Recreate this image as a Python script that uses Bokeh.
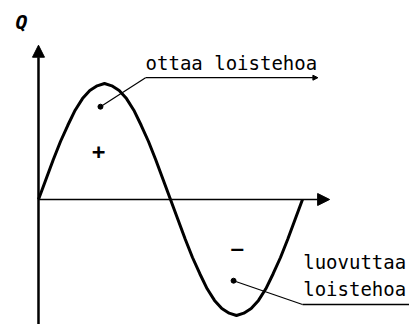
from bokeh.plotting import figure
from bokeh.models import Range1d, Arrow, NormalHead, ColumnDataSource, Label
from bokeh.embed import file_html
from bokeh.resources import INLINE

# Data: phase angle (degrees) and reactive power Q (relative)
angle_deg = [0, 10, 20, 30, 40, 50, 60, 70, 80, 90, 100, 110, 120, 130, 140, 150, 160, 170, 180,
             190, 200, 210, 220, 230, 240, 250, 260, 270, 280, 290, 300, 310, 320, 330, 340, 350, 360]
q_values = [0.0, 0.17, 0.34, 0.50, 0.64, 0.77, 0.87, 0.94, 0.98, 1.0, 0.98, 0.94, 0.87, 0.77, 0.64, 0.50,
            0.34, 0.17, 0.0, -0.17, -0.34, -0.50, -0.64, -0.77, -0.87, -0.94, -0.98, -1.0, -0.98, -0.94,
            -0.87, -0.77, -0.64, -0.50, -0.34, -0.17, 0.0]
axis_label = "Q"
label_take = "ottaa loistehoa"
label_give = ["luovuttaa", "loistehoa"]
signs = ["+", "\u2013"]

FONT = "DejaVu Sans Mono"

p = figure(width=409, height=324, output_backend="svg", toolbar_location=None,
           x_axis_type=None, y_axis_type=None, min_border=0,
           x_range=Range1d(-51.8, 505.9), y_range=Range1d(-1.0776, 1.7155))
p.grid.visible = False
p.outline_line_color = None
p.background_fill_color = "white"

# axes with arrows
p.add_layout(Arrow(end=NormalHead(size=12, fill_color="black", line_color="black"),
                   x_start=0, y_start=-1.0776, x_end=0, y_end=1.33,
                   line_width=2.5, line_color="black"))
p.add_layout(Arrow(end=NormalHead(size=12, fill_color="black", line_color="black"),
                   x_start=0, y_start=0, x_end=397, y_end=0,
                   line_width=1.6, line_color="black"))

# sine curve
src = ColumnDataSource(dict(x=angle_deg, y=q_values))
p.line("x", "y", source=src, line_width=3, line_color="black")

# marker dots
p.scatter([84.5, 266], [0.80, -0.70], size=5, color="black")

# leader lines
p.line([84.5, 146], [0.80, 1.05], line_width=1.2, line_color="black")
p.add_layout(Arrow(end=NormalHead(size=5, fill_color="black", line_color="black"),
                   x_start=146, y_start=1.05, x_end=381, y_end=1.05,
                   line_width=1.3, line_color="black"))
p.line([266, 360], [-0.70, -0.905], line_width=1.2, line_color="black")
p.line([360, 505.9], [-0.905, -0.905], line_width=1.3, line_color="black")

# texts
p.add_layout(Label(x=-23, y=1.53, text=axis_label, text_font=FONT, text_font_size="20px",
                   text_font_style="bold italic", text_align="center", text_baseline="middle",
                   text_color="black"))
p.add_layout(Label(x=146, y=1.085, text=label_take, text_font=FONT, text_font_size="19px",
                   text_baseline="bottom", text_color="black"))
p.add_layout(Label(x=361, y=-0.63, text=label_give[0], text_font=FONT, text_font_size="19px",
                   text_baseline="bottom", text_color="black"))
p.add_layout(Label(x=361, y=-0.87, text=label_give[1], text_font=FONT, text_font_size="19px",
                   text_baseline="bottom", text_color="black"))
p.add_layout(Label(x=82, y=0.42, text=signs[0], text_font=FONT, text_font_size="22px",
                   text_font_style="bold", text_align="center", text_baseline="middle",
                   text_color="black"))
p.add_layout(Label(x=271, y=-0.42, text=signs[1], text_font=FONT, text_font_size="20px",
                   text_font_style="bold", text_align="center", text_baseline="middle",
                   text_color="black"))

open("out.html", "w").write(file_html(p, INLINE))
